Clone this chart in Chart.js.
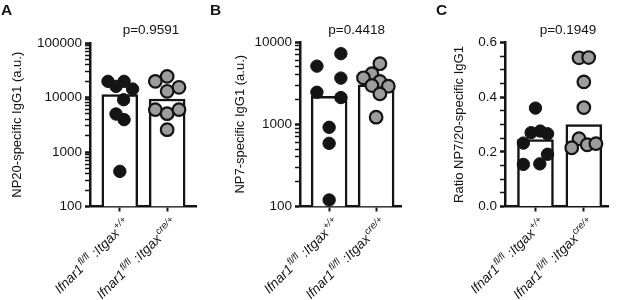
<!DOCTYPE html>
<html><head><meta charset="utf-8">
<script src="https://cdn.jsdelivr.net/npm/chart.js@4"></script>
<style>
html,body{margin:0;padding:0;background:#fff;width:617px;height:300px;overflow:hidden}
canvas{position:absolute;top:0}
</style></head><body>
<canvas id="cA" width="205" height="300" style="left:0px"></canvas>
<canvas id="cB" width="205" height="300" style="left:205px"></canvas>
<canvas id="cC" width="207" height="300" style="left:410px"></canvas>
<script>
// ---- categories (label parts: gene, superscript, gene, superscript) ----
const labelGene = ['Ifnar1', 'Ifnar1'];
const labelGeneSup = ['fl/fl', 'fl/fl'];
const labelCre = [':Itgax', ':Itgax'];
const labelCreSup = ['+/+', 'cre/+'];

const panelLetters = ['A', 'B', 'C'];
const pValues = ['p=0.9591', 'p=0.4418', 'p=0.1949'];
const yTitles = ['NP20-specific IgG1 (a.u.)', 'NP7-specific IgG1 (a.u.)', 'Ratio NP7/20-specific IgG1'];

// ---- Panel A: NP20-specific IgG1 ----
const np20Means = [11300, 9400];
const np20Wt = [19800, 16000, 19800, 14300, 9100, 4980, 3920, 441];
const np20WtJitter = [-0.25, -0.08, 0.09, 0.27, 0.08, -0.08, 0.09, 0];
const np20Cre = [24400, 19800, 13000, 15400, 5980, 5050, 5980, 2570];
const np20CreJitter = [0, -0.25, 0, 0.25, -0.25, 0, 0.25, 0];
const np20Ticks = [100, 1000, 10000, 100000];

// ---- Panel B: NP7-specific IgG1 ----
const np7Means = [2190, 3020];
const np7Wt = [5090, 7210, 2450, 3640, 2110, 918, 586, 120];
const np7WtJitter = [-0.26, 0.25, -0.26, 0.25, 0.25, 0, 0, 0];
const np7Cre = [5450, 4110, 3670, 3310, 2960, 2900, 2340, 1220];
const np7CreJitter = [0.08, -0.09, -0.27, 0.08, -0.09, 0.26, 0.08, 0];
const np7Ticks = [100, 1000, 10000];

// ---- Panel C: ratio NP7/NP20 ----
const ratioMeans = [0.245, 0.30];
const ratioWt = [0.36, 0.27, 0.276, 0.266, 0.232, 0.191, 0.154, 0.156];
const ratioWtJitter = [0, -0.09, 0.1, 0.25, -0.25, 0.25, -0.25, 0.09];
const ratioCre = [0.544, 0.545, 0.456, 0.362, 0.248, 0.215, 0.226, 0.23];
const ratioCreJitter = [-0.1, 0.1, 0, 0, -0.1, -0.25, 0.07, 0.25];
const ratioTicks = [0, 0.2, 0.4, 0.6];

const INK = '#141414';
const FONT = '"Liberation Sans", Arial, Helvetica, sans-serif';

function logMinorTicks(majors) {
  const out = [];
  for (let k = 0; k < majors.length; k++) {
    out.push(majors[k]);
    if (k < majors.length - 1) for (let m = 2; m <= 9; m++) out.push(majors[k] * m);
  }
  return out;
}
function linMinorTicks(majors, step) {
  const out = [];
  const lo = majors[0], hi = majors[majors.length - 1];
  const n = Math.round((hi - lo) / step);
  for (let k = 0; k <= n; k++) out.push(+(lo + k * step).toFixed(4));
  return out;
}

const decorPlugin = {
  id: 'decor',
  afterDraw(chart) {
    const o = chart.options.plugins.decor;
    const {ctx, chartArea, scales: {x}} = chart;
    ctx.save();
    ctx.fillStyle = INK;
    // panel letter
    ctx.font = 'bold 15.5px ' + FONT;
    ctx.textAlign = 'left'; ctx.textBaseline = 'alphabetic';
    ctx.fillText(o.letter, o.letterX, 14.5);
    // p value
    ctx.font = '13.5px ' + FONT;
    ctx.textAlign = 'center';
    ctx.fillText(o.pText, o.pX, 34);
    // rotated category labels with superscripts
    const mainFont = 'italic 13.5px ' + FONT;
    const supFont = 'italic 9.5px ' + FONT;
    for (let i = 0; i < labelGene.length; i++) {
      const px = x.getPixelForValue(i);
      const parts = [[labelGene[i], true], [labelGeneSup[i], false], [' ' + labelCre[i], true], [labelCreSup[i], false]];
      ctx.save();
      ctx.translate(px + 11, chartArea.bottom + 17);
      ctx.rotate(-Math.PI / 4);
      let total = 0; const ws = [];
      parts.forEach(([t, main]) => { ctx.font = main ? mainFont : supFont; const w = ctx.measureText(t).width + (main ? 0 : 1.5); ws.push(w); total += w; });
      let cx = -total;
      ctx.textAlign = 'left';
      parts.forEach(([t, main], k) => {
        ctx.font = main ? mainFont : supFont;
        ctx.fillText(t, cx + (main ? 0 : 1), main ? 0 : -5.5);
        cx += ws[k];
      });
      ctx.restore();
    }
    ctx.restore();
  }
};

function makePanel(id, p) {
  const ctx = document.getElementById(id).getContext('2d');
  const isMajor = v => p.majors.some(m => Math.abs(m - v) < 1e-9);
  const yScale = {
    type: p.log ? 'logarithmic' : 'linear',
    min: p.majors[0], max: p.majors[p.majors.length - 1],
    afterBuildTicks: s => { s.ticks = p.allTicks.map(v => ({value: v})); },
    afterFit: s => { s.width = p.yWidth; },
    ticks: {
      autoSkip: false,
      padding: 3,
      color: INK,
      font: {family: FONT, size: 13.5},
      callback: v => isMajor(v) ? (p.log ? String(v) : v.toFixed(1)) : ''
    },
    grid: {
      drawOnChartArea: false, drawTicks: true, tickLength: 5,
      tickColor: INK,
      tickWidth: c => (c.tick && isMajor(c.tick.value)) ? 2.5 : 1.5
    },
    border: {display: true, width: 2.5, color: INK},
    title: {
      display: true, text: p.yTitle, color: INK,
      font: {family: FONT, size: 13},
      padding: {top: p.titlePad, bottom: 0}
    }
  };
  return new Chart(ctx, {
    type: 'bar',
    data: {
      datasets: [
        {
          type: 'scatter', order: 0,
          data: p.wt.map((v, i) => ({x: 0 + p.wtJ[i], y: v})),
          pointRadius: 6.2, pointBackgroundColor: INK, pointBorderColor: INK, pointBorderWidth: 1
        },
        {
          type: 'scatter', order: 0,
          data: p.cre.map((v, i) => ({x: 1 + p.creJ[i], y: v})),
          pointRadius: 6.3, pointBackgroundColor: '#9d9d9d', pointBorderColor: INK, pointBorderWidth: 2.2
        },
        {
          type: 'bar', order: 1,
          data: p.means.map((v, i) => ({x: i, y: v})),
          backgroundColor: '#ffffff', borderColor: INK, borderWidth: 2.5,
          barThickness: 36
        }
      ]
    },
    options: {
      responsive: false, animation: false, events: [],
      layout: {padding: {left: 0, right: p.padRight, top: p.padTop, bottom: 0}},
      plugins: {
        legend: {display: false}, tooltip: {enabled: false},
        decor: {letter: p.letter, letterX: p.letterX, pText: p.pText, pX: p.pX}
      },
      scales: {
        x: {
          type: 'linear', min: p.xMin, max: p.xMax, offset: false,
          afterBuildTicks: s => { s.ticks = [{value: 0}, {value: 1}]; },
          afterFit: s => { s.height = 93.5; },
          ticks: {callback: () => '', autoSkip: false},
          grid: {drawOnChartArea: false, offset: false, tickLength: 5, tickWidth: 2, tickColor: INK},
          border: {display: true, width: 2.5, color: INK}
        },
        y: yScale
      }
    },
    plugins: [decorPlugin]
  });
}

makePanel('cA', {
  log: true, majors: np20Ticks, allTicks: logMinorTicks(np20Ticks),
  means: np20Means, wt: np20Wt, wtJ: np20WtJitter, cre: np20Cre, creJ: np20CreJitter,
  yTitle: yTitles[0], titlePad: 10, yWidth: 90, padTop: 43, padRight: 2,
  xMin: -0.63, xMax: 1.62,
  letter: panelLetters[0], letterX: 1, pText: pValues[0], pX: 151
});
makePanel('cB', {
  log: true, majors: np7Ticks, allTicks: logMinorTicks(np7Ticks),
  means: np7Means, wt: np7Wt, wtJ: np7WtJitter, cre: np7Cre, creJ: np7CreJitter,
  yTitle: yTitles[1], titlePad: 28, yWidth: 95, padTop: 42, padRight: 3,
  xMin: -0.62, xMax: 1.54,
  letter: panelLetters[1], letterX: 5, pText: pValues[1], pX: 151.7
});
makePanel('cC', {
  log: false, majors: ratioTicks, allTicks: linMinorTicks(ratioTicks, 0.05),
  means: ratioMeans, wt: ratioWt, wtJ: ratioWtJitter, cre: ratioCre, creJ: ratioCreJitter,
  yTitle: yTitles[2], titlePad: 42, yWidth: 95, padTop: 42.5, padRight: 5,
  xMin: -0.63, xMax: 1.51,
  letter: panelLetters[2], letterX: 26, pText: pValues[2], pX: 158
});
</script>
</body></html>
